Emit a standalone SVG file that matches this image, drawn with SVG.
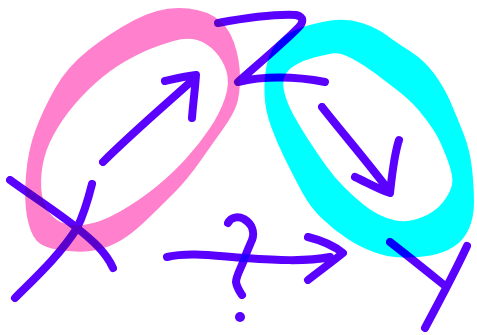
<svg xmlns="http://www.w3.org/2000/svg" width="477" height="335" viewBox="0 0 477 335">
<style>
.ring{fill-rule:evenodd;stroke:none}
.pen{fill:none;stroke:#5a00ff;stroke-width:8;stroke-linecap:round;stroke-linejoin:round;mix-blend-mode:multiply}
</style>
<rect width="477" height="335" fill="#ffffff"/>
<g id="ring-x">
<path class="ring" fill="#ff80cc" d="M178.5,8 Q200,8 214,16.5 Q228,25 234,42.5 Q240,60 240,77.5 Q240,95 236.5,105 Q233,115 223,129 Q213,143 200,161.5 Q187,180 173.5,193.5 Q160,207 146.5,220 Q133,233 121.5,240 Q110,247 96.5,250 Q83,253 63,250.5 Q43,248 36.5,240.5 Q30,233 27,216.5 Q24,200 26,175 Q28,150 35.5,130 Q43,110 55,88.5 Q67,67 88.5,50 Q110,33 133.5,20.5 Q157,8 178.5,8 Z M197,40 Q207,43 215,51.5 Q223,60 226.5,71.5 Q230,83 225,98 Q220,113 210,128 Q200,143 186.5,158 Q173,173 156.5,186.5 Q140,200 120,211.5 Q100,223 83.5,225 Q67,227 57,220 Q47,213 43.5,201.5 Q40,190 41.5,173.5 Q43,157 50,142 Q57,127 68.5,112 Q80,97 95,83.5 Q110,70 125,61.5 Q140,53 150,49 Q160,45 173.5,41 Q187,37 197,40 Z"/>
</g>
<g id="ring-y">
<path class="ring" fill="#00ffff" d="M362,23 Q377,28 387,35.5 Q397,43 410.5,51.5 Q424,60 434,73.5 Q444,87 450.5,102 Q457,117 463.5,133.5 Q470,150 472,168.5 Q474,187 474,202 Q474,217 469,228.5 Q464,240 454,246.5 Q444,253 430.5,255.5 Q417,258 402,257.5 Q387,257 373.5,252 Q360,247 347,238.5 Q334,230 322,218.5 Q310,207 302,192 Q294,177 285.5,160 Q277,143 271,126.5 Q265,110 264.5,93.5 Q264,77 267,63.5 Q270,50 278.5,41.5 Q287,33 300.5,28 Q314,23 330.5,20.5 Q347,18 362,23 Z M352,58.5 Q364,65 374,72.5 Q384,80 397,90 Q410,100 418.5,110 Q427,120 433.5,130 Q440,140 447,158.5 Q454,177 452,185 Q450,193 443.5,201.5 Q437,210 427,215 Q417,220 407,221 Q397,222 385.5,217.5 Q374,213 364,205 Q354,197 344,187 Q334,177 325.5,165 Q317,153 308.5,140 Q300,127 293.5,115 Q287,103 284.5,93 Q282,83 284.5,76.5 Q287,70 295.5,65 Q304,60 314,57.5 Q324,55 332,53.5 Q340,52 352,58.5 Z"/>
</g>
<g id="strokes">
<path id="arrow-x" class="pen" d="M103,162 C130,135 165,105 195,78 M165,81 C178,78 186,76 196,75 C195,90 193,104 192,118"/>
<path id="letter-x" class="pen" d="M10,180 C35,198 60,214 77,228 C92,240 106,252 113,268 M92,184 C88,200 84,214 77,228 C60,255 35,278 15,298"/>
<path id="letter-z" class="pen" d="M218,23 C245,18 275,14 296,15 C304,17 304,22 298,28 C280,46 258,64 238,82 C262,76 295,76 325,82"/>
<path id="arrow-y" class="pen" d="M322,107 C340,130 370,165 390,192 M355,177 C368,183 380,190 390,193 C392,175 394,155 399,140"/>
<path id="letter-y" class="pen" d="M390,242 C408,256 428,272 444,285 M467,246 C455,272 440,300 425,328"/>
<path id="arrow-q" class="pen" d="M167,257 C190,252 215,256 245,258 C275,260 305,262 330,257 M308,237 C320,240 333,245 343,253 C332,262 318,272 308,280"/>
<path id="question" class="pen" d="M228,223 C231,217 238,216 244,219 C252,224 255,232 252,240 C249,247 246,253 244,260 C241,268 236,276 236,282 C237,288 240,292 242,295"/>
<circle id="dot" cx="240" cy="317" r="5" fill="#5a00ff"/>
</g>
</svg>
